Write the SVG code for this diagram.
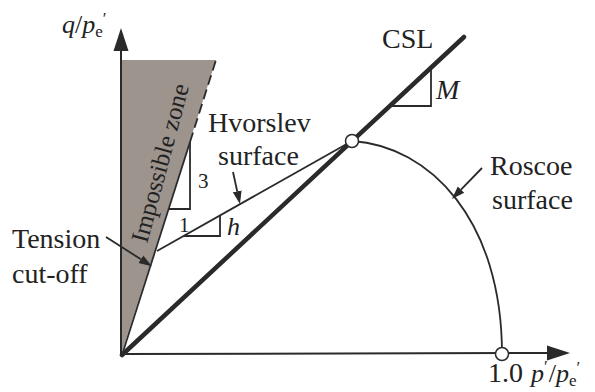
<svg xmlns="http://www.w3.org/2000/svg" width="595" height="392" viewBox="0 0 595 392">
<style>
  text { font-family: "Liberation Serif", "Times New Roman", serif; fill: #222; }
  .lbl { font-size: 28px; }
  .it { font-style: italic; }
  .up { font-style: normal; }
  .thin { fill: none; stroke: #2a2a2a; stroke-width: 1.8; }
  .axis { fill: none; stroke: #2a2a2a; stroke-width: 2; }
  .pt { fill: #fff; stroke: #2a2a2a; stroke-width: 1.5; }
</style>
<defs>
  <marker id="axArrow" markerUnits="userSpaceOnUse" viewBox="0 -9 24 18" refX="0" refY="0" markerWidth="24" markerHeight="18" orient="auto">
    <path d="M0,-7.5 L23,0 L0,7.5 z" fill="#2a2a2a"/>
  </marker>
  <marker id="arr" markerUnits="userSpaceOnUse" viewBox="0 -6 14 12" refX="0" refY="0" markerWidth="14" markerHeight="12" orient="auto">
    <path d="M0,-4.5 L13,0 L0,4.5 z" fill="#2a2a2a"/>
  </marker>
</defs>
<rect width="595" height="392" fill="#fff"/>

<g id="impossible-zone">
  <polygon points="121,355 121,60 216,60" fill="#9d948e"/>
  <line x1="122" y1="355" x2="190" y2="142" class="thin"/>
  <line x1="190" y1="142" x2="216" y2="60" class="thin" stroke-dasharray="10,5"/>
  <text font-size="25" transform="translate(147,244) rotate(-75)">Impossible zone</text>
  <polyline points="168.5,209 190,209 190,142" class="thin"/>
  <text x="198" y="188" font-size="21">3</text>
  <text x="179" y="232" font-size="21">1</text>
</g>

<g id="axes">
  <line x1="121" y1="355" x2="121" y2="51" class="axis" marker-end="url(#axArrow)"/>
  <line x1="121" y1="354" x2="547" y2="353" class="axis" marker-end="url(#axArrow)"/>
  <text class="it" x="62" y="33" font-size="26">q<tspan class="up">/</tspan>p<tspan class="up" font-size="17" dy="4">e</tspan><tspan class="up" font-size="17" dy="-13">′</tspan></text>
  <text class="it" x="531" y="382" font-size="26">p<tspan class="up" font-size="17" dy="-10">′</tspan><tspan class="up" dx="1" dy="10">/</tspan>p<tspan class="up" font-size="17" dy="4">e</tspan><tspan class="up" font-size="17" dy="-13">′</tspan></text>
  <text class="lbl" x="488" y="382">1.0</text>
</g>

<g id="csl">
  <line x1="122" y1="355" x2="464" y2="37" stroke="#2a2a2a" stroke-width="4.5" stroke-linecap="round"/>
  <polyline points="392,106 431,106 431,70" class="thin"/>
  <text class="lbl" x="382" y="48">CSL</text>
  <text class="lbl it" x="436" y="99">M</text>
</g>

<g id="hvorslev-surface">
  <line x1="157" y1="251" x2="352" y2="141" class="thin"/>
  <polyline points="183.6,236 220,236 220,215.5" class="thin"/>
  <text class="it" x="227" y="235" font-size="26">h</text>
  <text class="lbl" x="208" y="132">Hvorslev</text>
  <text class="lbl" x="218" y="165">surface</text>
</g>

<g id="roscoe-surface">
  <path d="M352,141 C430,146 502,220 502,354" class="thin"/>
  <text class="lbl" x="490" y="175">Roscoe</text>
  <text class="lbl" x="492" y="209">surface</text>
</g>

<g id="tension-cutoff">
  <text class="lbl" x="12" y="248">Tension</text>
  <text class="lbl" x="12" y="283">cut-off</text>
</g>

<g id="connectors">
  <line x1="106" y1="237" x2="140.9" y2="259.3" class="thin" marker-end="url(#arr)"/>
  <line x1="233" y1="172" x2="237.2" y2="191.3" class="thin" marker-end="url(#arr)"/>
  <line x1="482" y1="168" x2="461" y2="189.6" class="thin" marker-end="url(#arr)"/>
</g>

<g id="points">
  <circle cx="352" cy="141" r="6.5" class="pt"/>
  <circle cx="502" cy="354" r="6.5" class="pt"/>
</g>
</svg>
